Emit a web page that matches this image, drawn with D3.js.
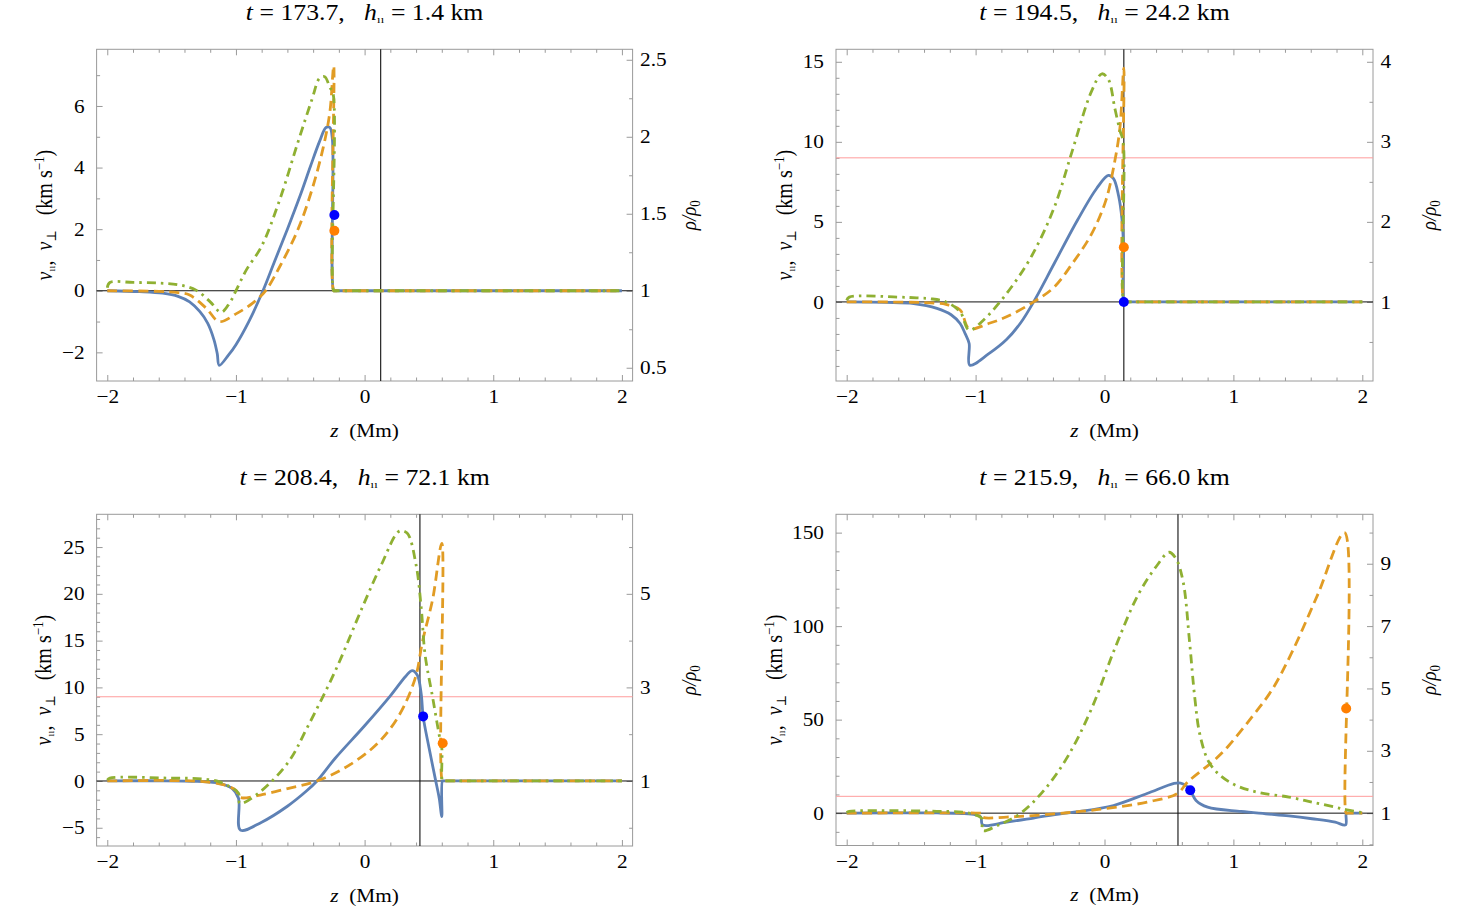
<!DOCTYPE html>
<html>
<head>
<meta charset="utf-8">
<script src="https://cdn.jsdelivr.net/npm/d3@7"></script>
<style>
  html, body { margin: 0; padding: 0; background: #fff; }
  svg, svg text { font-family: "Liberation Serif", "DejaVu Serif", "Times New Roman", serif; fill: #000; }
</style>
</head>
<body>
<script>
// ---- data (velocity units, km/s) ------------------------------------------
const zTicks = [-2, -1, 0, 1, 2];
const times  = ['173.7', '194.5', '208.4', '215.9'];
const hPar   = ['1.4', '24.2', '72.1', '66.0'];

const solid1 = [[-2,0],[-1.75,-0.03],[-1.57,-0.08],[-1.45,-0.18],[-1.36,-0.36],[-1.28,-0.68],[-1.22,-1.05],[-1.17,-1.6],[-1.145,-2.05],[-1.13,-2.42],[-1.06,-2.1],[-1.0,-1.75],[-0.9,-1.0],[-0.79,0],[-0.7,0.95],[-0.6,2.0],[-0.5,3.1],[-0.42,4.05],[-0.35,4.85],[-0.3,5.3],[-0.27,5.3],[-0.25,4.9],[-0.24,0],[-0.23,0],[2,0]];
const dashed1 = [[-2,0],[-1.6,-0.02],[-1.45,-0.06],[-1.36,-0.14],[-1.23,-0.57],[-1.13,-1.0],[-1.0,-0.75],[-0.87,-0.4],[-0.77,0],[-0.66,0.78],[-0.52,1.97],[-0.41,3.27],[-0.32,4.68],[-0.27,5.8],[-0.24,7.3],[-0.24,0],[-0.23,0],[2,0]];
const dotdash1 = [[-2,0.1],[-1.98,0.27],[-1.8,0.27],[-1.6,0.25],[-1.44,0.19],[-1.31,0.02],[-1.2,-0.36],[-1.115,-0.7],[-1.05,-0.4],[-1.0,0.0],[-0.92,0.67],[-0.8,1.45],[-0.66,2.95],[-0.52,4.8],[-0.41,6.2],[-0.35,6.9],[-0.31,6.95],[-0.27,6.6],[-0.245,6.4],[-0.24,0],[-0.23,0],[2,0]];
const dots1 = { blue: [-0.235, 2.46], orange: [-0.235, 1.95] };

const solid2 = [[-2,0],[-1.7,-0.03],[-1.48,-0.1],[-1.3,-0.4],[-1.19,-0.8],[-1.12,-1.35],[-1.08,-2.0],[-1.05,-2.6],[-1.045,-3.95],[-0.9,-3.25],[-0.76,-2.35],[-0.65,-1.3],[-0.55,0],[-0.39,2.4],[-0.21,5.1],[-0.06,7.1],[0.03,7.9],[0.07,7.7],[0.11,6.6],[0.135,5.2],[0.148,3.4],[0.15,0],[0.16,0],[2,0]];
const dashed2 = [[-2,0],[-1.5,-0.02],[-1.3,-0.08],[-1.23,-0.15],[-1.12,-0.5],[-1.05,-1.66],[-0.9,-1.35],[-0.76,-0.93],[-0.55,0],[-0.39,0.93],[-0.25,2.39],[-0.1,4.25],[0.01,6.33],[0.08,8.8],[0.12,10.9],[0.15,14.6],[0.15,0],[0.16,0],[2,0]];
const dotdash2 = [[-2,0.1],[-1.98,0.3],[-1.6,0.3],[-1.45,0.25],[-1.35,0.2],[-1.23,0],[-1.12,-0.62],[-1.05,-1.76],[-0.94,-1.14],[-0.76,0.52],[-0.57,2.8],[-0.39,5.9],[-0.25,9.44],[-0.1,13.17],[-0.02,14.25],[0.03,13.9],[0.08,12.1],[0.12,10.7],[0.145,10.0],[0.15,0],[0.16,0],[2,0]];
const dots2 = { blue: [0.15, 0], orange: [0.15, 3.42] };

const solid3 = [[-2,0],[-1.6,0.02],[-1.3,-0.05],[-1.13,-0.25],[-1.03,-0.8],[-0.98,-1.85],[-0.965,-5.25],[-0.8,-4.4],[-0.6,-2.7],[-0.45,-1.05],[-0.37,0],[-0.23,2.4],[0,5.9],[0.2,9.1],[0.32,11.2],[0.37,11.8],[0.41,11.3],[0.44,9.3],[0.455,6.9],[0.5,3.6],[0.55,0.2],[0.58,-1.85],[0.6,-3.8],[0.605,0],[0.615,0],[2,0]];
const dashed3 = [[-2,0],[-1.3,-0.02],[-1.1,-0.4],[-1.0,-1.0],[-0.97,-1.75],[-0.81,-1.5],[-0.59,-0.78],[-0.37,0],[-0.16,1.35],[0.06,3.5],[0.2,5.6],[0.31,8.1],[0.4,11.3],[0.45,14.9],[0.53,19.5],[0.6,25.4],[0.605,0],[0.615,0],[2,0]];
const dotdash3 = [[-2,0.1],[-1.98,0.3],[-1.5,0.3],[-1.3,0.25],[-1.15,0.0],[-1.05,-0.6],[-0.98,-1.3],[-0.97,-2.4],[-0.81,-1.14],[-0.59,2.07],[-0.45,5.6],[-0.23,11.7],[-0.01,18.8],[0.13,23.1],[0.27,26.7],[0.33,26.5],[0.4,23.1],[0.44,18.5],[0.47,13.5],[0.53,8.84],[0.58,4.9],[0.6,3.5],[0.605,0],[0.615,0],[2,0]];
const dots3 = { blue: [0.455, 6.9], orange: [0.607, 4.03] };

const solid4 = [[-2,0],[-1.3,0.1],[-1.1,-0.2],[-1.0,-0.9],[-0.96,-2],[-0.945,-6.3],[-0.76,-4.8],[-0.55,-2.6],[-0.33,-0.2],[-0.19,0.9],[0.07,4.1],[0.33,10.5],[0.54,15.9],[0.59,16.1],[0.63,14.8],[0.665,12.2],[0.71,6.8],[0.8,3.2],[1.06,0.9],[1.25,-0.36],[1.43,-1.5],[1.61,-3.0],[1.79,-4.8],[1.87,-6.3],[1.875,0],[1.885,0],[2,0]];
const dashed4 = [[-2,0],[-1.0,0],[-0.95,-0.3],[-0.945,-2.1],[-0.76,-2.1],[-0.6,-1.5],[-0.39,-0.4],[-0.19,0.9],[0.02,2.5],[0.33,5.9],[0.565,10.5],[0.645,16.6],[0.85,28.2],[0.955,35.4],[1.15,52],[1.3,66],[1.447,85],[1.655,117],[1.862,150],[1.875,0],[1.885,0],[2,0]];
const dotdash4 = [[-2,0.3],[-1.98,0.9],[-1.3,1.0],[-1.1,0.5],[-1.0,-0.9],[-0.95,-3],[-0.945,-9.3],[-0.83,-6.6],[-0.65,0],[-0.46,13],[-0.28,30.9],[-0.1,55.9],[0.08,88],[0.26,116.6],[0.41,132.7],[0.5,139.5],[0.555,136],[0.61,123.75],[0.66,91.6],[0.7,62],[0.74,42],[0.81,27.3],[0.9,20],[1.03,14.5],[1.2,11],[1.43,8.6],[1.61,5.9],[1.79,3.2],[1.88,1.8],[2,0.3]];
const dots4 = { blue: [0.665, 12.2], orange: [1.875, 56] };

// vertical marker line position and horizontal reference level per panel
const zMarks   = [0.125, 0.15, 0.43, 0.57];
const refLevel = [null, 9, 9, 9];

// ---- panel layout ---------------------------------------------------------
const panels = [
  { left: 96.6, right: 632.6, top: 49.3,  bottom: 381,   vDom: [-2.93, 7.84],  k: 5, labelGap: 45,
    vMajor: [-2, 0, 2, 4, 6], vMinorStep: 1, rMajor: [0.5, 1, 1.5, 2, 2.5], rMinorStep: 0.25,
    solid: solid1, dashed: dashed1, dotdash: dotdash1, dots: dots1 },
  { left: 836,  right: 1373,  top: 49.3,  bottom: 381,   vDom: [-4.94, 15.78], k: 5, labelGap: 44,
    vMajor: [0, 5, 10, 15], vMinorStep: 1, rMajor: [1, 2, 3, 4], rMinorStep: 0.5,
    solid: solid2, dashed: dashed2, dotdash: dotdash2, dots: dots2 },
  { left: 96.6, right: 632.6, top: 514.3, bottom: 846,   vDom: [-6.95, 28.5],  k: 5, labelGap: 46,
    vMajor: [-5, 0, 5, 10, 15, 20, 25], vMinorStep: 1, rMajor: [1, 3, 5], rMinorStep: 1,
    solid: solid3, dashed: dashed3, dotdash: dotdash3, dots: dots3 },
  { left: 836,  right: 1373,  top: 514.3, bottom: 845.5, vDom: [-17.3, 159.8], k: 16.67, labelGap: 54,
    vMajor: [0, 50, 100, 150], vMinorStep: 10, rMajor: [1, 3, 5, 7, 9], rMinorStep: 1,
    solid: solid4, dashed: dashed4, dotdash: dotdash4, dots: dots4 }
];

const C = { blue: '#5E81B5', orange: '#E19C24', green: '#8FB032', frame: '#9a9a9a' };
const FONT = '"Liberation Serif", "DejaVu Serif", "Times New Roman", serif';
const SX = 1.12;   // the reference type is a little wider than plain Times
const fmt = d => String(+d.toFixed(3)).replace('-', '\u2212');

const svg = d3.select('body').append('svg')
  .attr('width', 1459).attr('height', 911).style('font-family', FONT);
svg.append('rect').attr('width', 1459).attr('height', 911).attr('fill', '#fff');

function steps(lo, hi, step) {
  const out = [];
  for (let v = Math.ceil(lo / step) * step; v <= hi + 1e-9; v += step) out.push(+v.toFixed(4));
  return out;
}

// subscript "parallel" mark: two short upright strokes (caller undoes the shift)
function parSub(text, size, shift) {
  text.append('tspan').attr('dy', shift).style('font-size', size + 'px')
    .style('font-style', 'normal').style('letter-spacing', '0.3px').text('\u0131\u0131');
}

function drawPanel(p, i) {
  const g = svg.append('g');
  const x = d3.scaleLinear().domain([-2.083, 2.083]).range([p.left, p.right]);
  const y = d3.scaleLinear().domain(p.vDom).range([p.bottom, p.top]);
  const yR = d3.scaleLinear().domain([1 + p.vDom[0] / p.k, 1 + p.vDom[1] / p.k]).range([p.bottom, p.top]);
  const w = p.right - p.left, h = p.bottom - p.top;

  // frame
  g.append('rect').attr('x', p.left).attr('y', p.top).attr('width', w).attr('height', h)
    .attr('fill', 'none').attr('stroke', C.frame).attr('stroke-width', 1);

  // ticks (inside the frame)
  const xMinor = steps(-2, 2, 0.2).filter(v => !zTicks.includes(v));
  const vMinor = steps(p.vDom[0], p.vDom[1], p.vMinorStep).filter(v => !p.vMajor.includes(v));
  const rDom = yR.domain();
  const rMinor = steps(rDom[0], rDom[1], p.rMinorStep).filter(v => !p.rMajor.includes(v));

  const addAxis = (axis, tx, ty) => {
    const a = g.append('g').attr('transform', `translate(${tx},${ty})`).call(axis);
    a.attr('font-family', null).attr('font-size', null);
    a.select('.domain').remove();
    a.selectAll('line').attr('stroke', C.frame);
    a.selectAll('text').style('font-size', '19px').style('font-family', FONT)
      .attr('transform', function () {
        const tx0 = +this.getAttribute('x') || 0;
        return `translate(${tx0},0) scale(${SX},1) translate(${-tx0},0)`;
      });
    return a;
  };
  addAxis(d3.axisBottom(x).tickValues(zTicks).tickSize(-6).tickPadding(9).tickFormat(fmt), 0, p.bottom);
  addAxis(d3.axisBottom(x).tickValues(xMinor).tickSize(-3.5).tickFormat(''), 0, p.bottom);
  addAxis(d3.axisTop(x).tickValues(zTicks).tickSize(-6).tickFormat(''), 0, p.top);
  addAxis(d3.axisTop(x).tickValues(xMinor).tickSize(-3.5).tickFormat(''), 0, p.top);
  addAxis(d3.axisLeft(y).tickValues(p.vMajor).tickSize(-6).tickPadding(12).tickFormat(fmt), p.left, 0);
  addAxis(d3.axisLeft(y).tickValues(vMinor).tickSize(-3.5).tickFormat(''), p.left, 0);
  addAxis(d3.axisRight(yR).tickValues(p.rMajor).tickSize(-6).tickPadding(7.5).tickFormat(fmt), p.right, 0);
  addAxis(d3.axisRight(yR).tickValues(rMinor).tickSize(-3.5).tickFormat(''), p.right, 0);

  // reference lines
  if (refLevel[i] != null) {
    g.append('line').attr('x1', p.left).attr('x2', p.right)
      .attr('y1', y(refLevel[i])).attr('y2', y(refLevel[i]))
      .attr('stroke', '#ff9c9c').attr('stroke-width', 1);
  }
  g.append('line').attr('x1', p.left).attr('x2', p.right)
    .attr('y1', y(0)).attr('y2', y(0)).attr('stroke', '#111').attr('stroke-width', 1);
  g.append('line').attr('x1', x(zMarks[i])).attr('x2', x(zMarks[i]))
    .attr('y1', p.top).attr('y2', p.bottom).attr('stroke', '#111').attr('stroke-width', 1.1);

  // curves
  const line = d3.line().x(d => x(d[0])).y(d => y(d[1])).curve(d3.curveCatmullRom.alpha(0.5));
  const curve = (data, color, dash) => g.append('path').datum(data)
    .attr('d', line).attr('fill', 'none').attr('stroke', color)
    .attr('stroke-width', 2.8).attr('stroke-dasharray', dash).attr('stroke-linejoin', 'round');
  curve(p.solid, C.blue, null);
  curve(p.dashed, C.orange, '10,5.5');
  curve(p.dotdash, C.green, '9,5,2.5,5');

  // markers
  g.append('circle').attr('cx', x(p.dots.blue[0])).attr('cy', y(p.dots.blue[1])).attr('r', 5).attr('fill', '#0000ff');
  g.append('circle').attr('cx', x(p.dots.orange[0])).attr('cy', y(p.dots.orange[1])).attr('r', 5).attr('fill', '#ff7f00');

  // labels
  const cx = (p.left + p.right) / 2, cy = (p.top + p.bottom) / 2;
  const title = g.append('text')
    .attr('transform', `translate(${cx},${p.top - 29.5}) scale(${SX},1)`)
    .attr('text-anchor', 'middle').style('font-size', '23px').style('white-space', 'pre');
  title.append('tspan').style('font-style', 'italic').text('t');
  title.append('tspan').text(` = ${times[i]},   `);
  title.append('tspan').style('font-style', 'italic').text('h');
  parSub(title, 11, 3);
  title.append('tspan').attr('dy', -3).text(` = ${hPar[i]} km`);

  g.append('text')
    .attr('transform', `translate(${cx},${p.bottom + 55.7}) scale(${SX},1)`)
    .attr('text-anchor', 'middle').style('font-size', '19px').style('white-space', 'pre')
    .call(t => { t.append('tspan').style('font-style', 'italic').text('z'); t.append('tspan').text('  (Mm)'); });

  const yl = g.append('text')
    .attr('transform', `translate(${p.left - p.labelGap},${cy}) rotate(-90) scale(1,${SX})`)
    .attr('text-anchor', 'middle').style('font-size', '20px').style('white-space', 'pre');
  yl.append('tspan').style('font-style', 'italic').text('v');
  parSub(yl, 10, 3);
  yl.append('tspan').attr('dy', -3).text(',  ');
  yl.append('tspan').style('font-style', 'italic').text('v');
  yl.append('tspan').attr('dy', 4).style('font-size', '12px').text('\u22a5');
  yl.append('tspan').attr('dy', -4).text('   (km s');
  yl.append('tspan').attr('dy', -7).style('font-size', '13px').text('\u22121');
  yl.append('tspan').attr('dy', 7).text(')');

  const rl = g.append('text')
    .attr('transform', `translate(${p.right + 63},${cy}) rotate(-90) scale(1,${SX})`)
    .attr('text-anchor', 'middle').style('font-size', '19px');
  rl.append('tspan').style('font-style', 'italic').text('\u03c1/\u03c1');
  rl.append('tspan').attr('dy', 4).style('font-size', '13px').text('0');
}

panels.forEach(drawPanel);
</script>
</body>
</html>
